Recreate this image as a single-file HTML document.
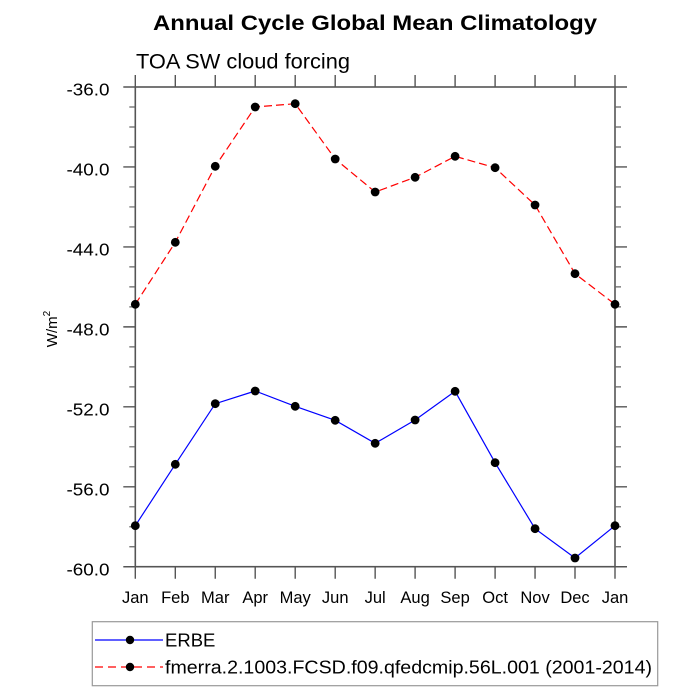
<!DOCTYPE html>
<html><head><meta charset="utf-8"><style>
html,body{margin:0;padding:0;background:#fff;}
svg{display:block;}
text{font-family:"Liberation Sans",Arial,sans-serif;fill:#000;}
</style></head><body>
<svg width="700" height="700" viewBox="0 0 700 700" xmlns="http://www.w3.org/2000/svg">
<rect width="700" height="700" fill="#fff"/>
<text x="375" y="30" font-size="21" font-weight="bold" text-anchor="middle" textLength="444" lengthAdjust="spacingAndGlyphs">Annual Cycle Global Mean Climatology</text>
<text x="136" y="68.5" font-size="21.5" textLength="214" lengthAdjust="spacingAndGlyphs">TOA SW cloud forcing</text>

<!-- axes frame -->
<rect x="135.3" y="87" width="479.7" height="479.7" fill="none" stroke="#555" stroke-width="1.6"/>
<!-- y major ticks left/right -->
<path stroke="#555" stroke-width="1.4" fill="none" d="
M135.3 87h-12 M135.3 166.96h-12 M135.3 246.92h-12 M135.3 326.88h-12 M135.3 406.84h-12 M135.3 486.8h-12 M135.3 566.76h-12
M615 87h12 M615 166.96h12 M615 246.92h12 M615 326.88h12 M615 406.84h12 M615 486.8h12 M615 566.76h12"/>
<!-- y minor ticks -->
<path stroke="#666" stroke-width="1.2" fill="none" d="
M135.3 106.99h-6 M135.3 126.98h-6 M135.3 146.97h-6 M135.3 186.95h-6 M135.3 206.94h-6 M135.3 226.93h-6
M135.3 266.91h-6 M135.3 286.9h-6 M135.3 306.89h-6 M135.3 346.87h-6 M135.3 366.86h-6 M135.3 386.85h-6
M135.3 426.83h-6 M135.3 446.82h-6 M135.3 466.81h-6 M135.3 506.79h-6 M135.3 526.78h-6 M135.3 546.77h-6
M615 106.99h6 M615 126.98h6 M615 146.97h6 M615 186.95h6 M615 206.94h6 M615 226.93h6
M615 266.91h6 M615 286.9h6 M615 306.89h6 M615 346.87h6 M615 366.86h6 M615 386.85h6
M615 426.83h6 M615 446.82h6 M615 466.81h6 M615 506.79h6 M615 526.78h6 M615 546.77h6"/>
<!-- x ticks bottom/top -->
<path stroke="#555" stroke-width="1.4" fill="none" d="
M135.3 566.7v12 M175.3 566.7v12 M215.25 566.7v12 M255.2 566.7v12 M295.2 566.7v12 M335.2 566.7v12 M375.15 566.7v12 M415.1 566.7v12 M455.1 566.7v12 M495.1 566.7v12 M535.05 566.7v12 M575 566.7v12 M615 566.7v12
M135.3 87v-12 M175.3 87v-12 M215.25 87v-12 M255.2 87v-12 M295.2 87v-12 M335.2 87v-12 M375.15 87v-12 M415.1 87v-12 M455.1 87v-12 M495.1 87v-12 M535.05 87v-12 M575 87v-12 M615 87v-12"/>

<!-- y tick labels -->
<g font-size="17.5" text-anchor="end">
<text x="109.5" y="95.5" textLength="43" lengthAdjust="spacingAndGlyphs">-36.0</text>
<text x="109.5" y="175.5" textLength="43" lengthAdjust="spacingAndGlyphs">-40.0</text>
<text x="109.5" y="255.5" textLength="43" lengthAdjust="spacingAndGlyphs">-44.0</text>
<text x="109.5" y="335.5" textLength="43" lengthAdjust="spacingAndGlyphs">-48.0</text>
<text x="109.5" y="415.5" textLength="43" lengthAdjust="spacingAndGlyphs">-52.0</text>
<text x="109.5" y="495.5" textLength="43" lengthAdjust="spacingAndGlyphs">-56.0</text>
<text x="109.5" y="575.5" textLength="43" lengthAdjust="spacingAndGlyphs">-60.0</text>
</g>
<!-- x tick labels -->
<g font-size="16.5" text-anchor="middle">
<text x="135.3" y="603">Jan</text>
<text x="175.3" y="603">Feb</text>
<text x="215.25" y="603">Mar</text>
<text x="255.2" y="603">Apr</text>
<text x="295.2" y="603">May</text>
<text x="335.2" y="603">Jun</text>
<text x="375.15" y="603">Jul</text>
<text x="415.1" y="603">Aug</text>
<text x="455.1" y="603">Sep</text>
<text x="495.1" y="603">Oct</text>
<text x="535.05" y="603">Nov</text>
<text x="575" y="603">Dec</text>
<text x="615" y="603">Jan</text>
</g>
<!-- y axis label -->
<text transform="translate(57,329) rotate(-90)" font-size="15" text-anchor="middle">W/m<tspan font-size="10" dy="-7">2</tspan></text>

<!-- red dashed series -->
<polyline fill="none" stroke="#ff0000" stroke-width="1.2" stroke-dasharray="8,4"
points="135.3,304.3 175.3,242.3 215.25,166.3 255.2,107 295.2,103.7 335.2,159 375.15,192 415.1,177.3 455.1,156.3 495.1,167.7 535.05,205 575,273.7 615,304.3"/>
<g fill="#000">
<circle cx="135.3" cy="304.3" r="4.4"/><circle cx="175.3" cy="242.3" r="4.4"/><circle cx="215.25" cy="166.3" r="4.4"/>
<circle cx="255.2" cy="107" r="4.4"/><circle cx="295.2" cy="103.7" r="4.4"/><circle cx="335.2" cy="159" r="4.4"/>
<circle cx="375.15" cy="192" r="4.4"/><circle cx="415.1" cy="177.3" r="4.4"/><circle cx="455.1" cy="156.3" r="4.4"/>
<circle cx="495.1" cy="167.7" r="4.4"/><circle cx="535.05" cy="205" r="4.4"/><circle cx="575" cy="273.7" r="4.4"/>
<circle cx="615" cy="304.3" r="4.4"/>
</g>
<!-- blue solid series -->
<polyline fill="none" stroke="#0000ff" stroke-width="1.2"
points="135.3,525.7 175.3,464.3 215.25,403.7 255.2,391 295.2,406.3 335.2,420.3 375.15,443.3 415.1,420 455.1,391.3 495.1,462.7 535.05,528.7 575,558 615,525.7"/>
<g fill="#000">
<circle cx="135.3" cy="525.7" r="4.4"/><circle cx="175.3" cy="464.3" r="4.4"/><circle cx="215.25" cy="403.7" r="4.4"/>
<circle cx="255.2" cy="391" r="4.4"/><circle cx="295.2" cy="406.3" r="4.4"/><circle cx="335.2" cy="420.3" r="4.4"/>
<circle cx="375.15" cy="443.3" r="4.4"/><circle cx="415.1" cy="420" r="4.4"/><circle cx="455.1" cy="391.3" r="4.4"/>
<circle cx="495.1" cy="462.7" r="4.4"/><circle cx="535.05" cy="528.7" r="4.4"/><circle cx="575" cy="558" r="4.4"/>
<circle cx="615" cy="525.7" r="4.4"/>
</g>

<!-- legend -->
<rect x="92.3" y="621.7" width="565.4" height="64" fill="#fff" stroke="#999" stroke-width="1.2"/>
<line x1="95" y1="640" x2="163" y2="640" stroke="#0000ff" stroke-width="1.2"/>
<circle cx="130" cy="640" r="4.2" fill="#000"/>
<line x1="95" y1="667" x2="163" y2="667" stroke="#ff0000" stroke-width="1.2" stroke-dasharray="8,5"/>
<circle cx="130" cy="667" r="4.2" fill="#000"/>
<text x="165" y="646.5" font-size="18.5">ERBE</text>
<text x="165" y="673.5" font-size="18.5" textLength="487" lengthAdjust="spacingAndGlyphs">fmerra.2.1003.FCSD.f09.qfedcmip.56L.001 (2001-2014)</text>
</svg>
</body></html>
